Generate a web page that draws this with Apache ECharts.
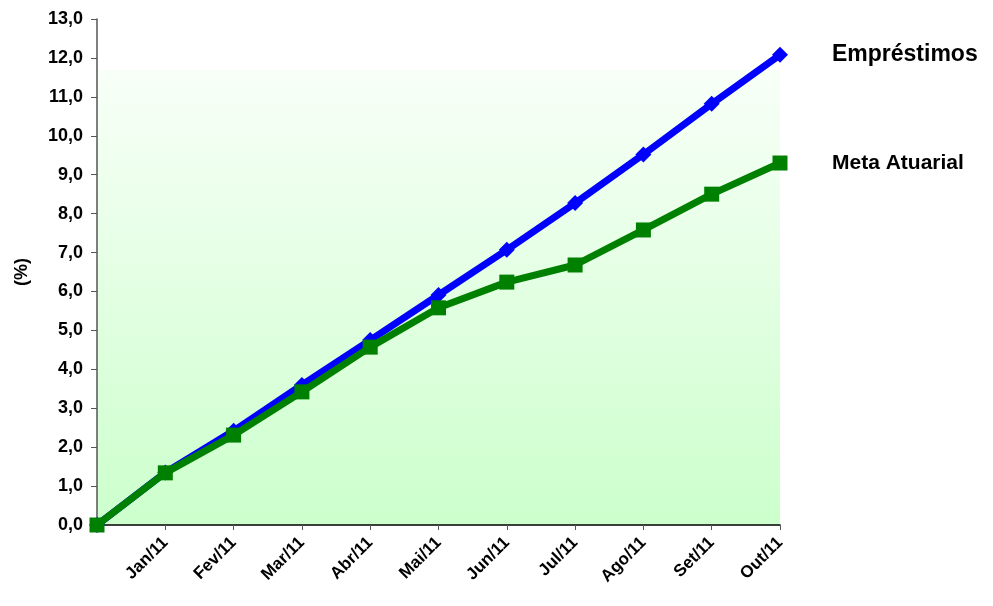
<!DOCTYPE html>
<html>
<head>
<meta charset="utf-8">
<script src="https://cdn.jsdelivr.net/npm/echarts@6/dist/echarts.min.js"></script>
<style>html,body{margin:0;padding:0;background:#fff;}#c{width:993px;height:606px;}</style>
</head>
<body>
<div id="c"></div>
<script>
const categories = ["", "Jan/11", "Fev/11", "Mar/11", "Abr/11", "Mai/11", "Jun/11", "Jul/11", "Ago/11", "Set/11", "Out/11"];
const emprestimos = [0, 1.35, 2.42, 3.60, 4.75, 5.91, 7.07, 8.27, 9.52, 10.82, 12.08];
const metaAtuarial = [0, 1.34, 2.31, 3.42, 4.57, 5.58, 6.24, 6.68, 7.58, 8.50, 9.30];
const yTicks = {min: 0, max: 13, interval: 1};

const chart = echarts.init(document.getElementById('c'), null, {renderer: 'canvas'});
const font = 'Liberation Sans, Arial, sans-serif';
chart.setOption({
  animation: false,
  grid: {
    left: 97, right: 213, top: 19, bottom: 81,
    show: true, borderWidth: 0,
    backgroundColor: {
      type: 'linear', x: 0, y: 0, x2: 0, y2: 1,
      colorStops: [
        {offset: 0, color: '#FFFFFF'},
        {offset: 0.1, color: '#FFFFFF'},
        {offset: 0.101, color: '#F8FFF8'},
        {offset: 1, color: '#CCFFCC'}
      ]
    }
  },
  xAxis: {
    type: 'category', data: categories, boundaryGap: false,
    axisLine: {lineStyle: {color: '#000', width: 1.5}},
    axisTick: {show: true, length: 5, lineStyle: {color: '#555'}},
    axisLabel: {rotate: 45, fontFamily: font, fontWeight: 'bold', fontSize: 17, color: '#000', margin: 15}
  },
  yAxis: {
    type: 'value', min: yTicks.min, max: yTicks.max, interval: yTicks.interval,
    name: '(%)', nameLocation: 'middle', nameGap: 66, nameRotate: 90,
    nameTextStyle: {fontFamily: font, fontWeight: 'bold', fontSize: 18, color: '#000'},
    splitLine: {show: false},
    axisLine: {show: true, lineStyle: {color: '#555', width: 1.5}},
    axisTick: {show: true, length: 6, lineStyle: {color: '#555'}},
    axisLabel: {fontFamily: font, fontWeight: 'bold', fontSize: 18, color: '#000', margin: 14,
      formatter: v => v.toFixed(1).replace('.', ',')}
  },
  series: [
    {
      name: 'Empréstimos', type: 'line', data: emprestimos,
      symbol: 'diamond', symbolSize: 16, showAllSymbol: true,
      lineStyle: {color: '#0000FF', width: 7},
      itemStyle: {color: '#0000FF'},
      z: 2,
      endLabel: {show: true, formatter: '{a}', distance: 52, fontFamily: font, fontWeight: 'bold', fontSize: 23, color: '#000'}
    },
    {
      name: 'Meta Atuarial', type: 'line', data: metaAtuarial,
      symbol: 'rect', symbolSize: 15, showAllSymbol: true,
      lineStyle: {color: '#008000', width: 7},
      itemStyle: {color: '#008000'},
      z: 3,
      endLabel: {show: true, formatter: '{a}', distance: 52, fontFamily: font, fontWeight: 'bold', fontSize: 21, color: '#000'}
    }
  ]
});
</script>
</body>
</html>
